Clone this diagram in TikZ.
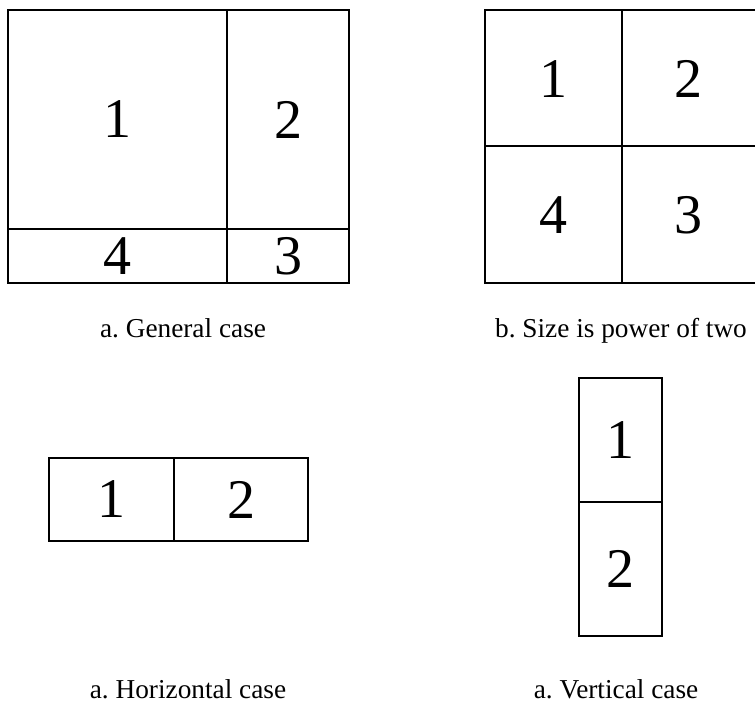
\documentclass[tikz,border=0pt]{standalone}
\usepackage{fontspec}
\setmainfont{Liberation Serif}
\frenchspacing
\begin{document}
\begin{tikzpicture}[x=1pt,y=-1pt,
  frame/.style={line width=1.6pt, line cap=rect},
  num/.style={font=\fontsize{56}{56}\selectfont, inner sep=0pt},
  captext/.style={font=\fontsize{27.3}{30}\selectfont, inner sep=0pt, anchor=base}]
\useasboundingbox (0,0) rectangle (755,704);

% a. General case
\coordinate (aTL) at (8,10);
\coordinate (aBR) at (349,283);
\draw[frame] (aTL) rectangle (aBR);
\coordinate (aV1) at (227,10);
\coordinate (aV2) at (227,283);
\coordinate (aH1) at (8,229);
\coordinate (aH2) at (349,229);
\draw[frame] (aV1) -- (aV2);
\draw[frame] (aH1) -- (aH2);
\node[num] (a1) at (117.5,119.5) {1};
\node[num] (a2) at (288,119.5) {2};
\node[num] (a4) at (117.5,256.5) {4};
\node[num] (a3) at (288,256.5) {3};
\node[captext] (capa) at (183,337) {a. General case};

% b. Size is power of two
\coordinate (bT) at (755,10);
\coordinate (bTL) at (485,10);
\coordinate (bBL) at (485,283);
\coordinate (bB) at (755,283);
\draw[frame] (bT) -- (bTL) -- (bBL) -- (bB);
\coordinate (bV1) at (622,10);
\coordinate (bV2) at (622,283);
\coordinate (bH1) at (485,146);
\coordinate (bH2) at (755,146);
\draw[frame] (bV1) -- (bV2);
\draw[frame] (bH1) -- (bH2);
\node[num] (b1) at (553,79) {1};
\node[num] (b2) at (688,79) {2};
\node[num] (b4) at (553,215) {4};
\node[num] (b3) at (688,215) {3};
\node[captext] (capb) at (621,337) {b. Size is power of two};

% Horizontal case
\coordinate (hTL) at (49,458);
\coordinate (hBR) at (308,541);
\draw[frame] (hTL) rectangle (hBR);
\coordinate (hV1) at (174,458);
\coordinate (hV2) at (174,541);
\draw[frame] (hV1) -- (hV2);
\node[num] (h1) at (111.5,499.5) {1};
\node[num] (h2) at (241,499.5) {2};
\node[captext] (caph) at (188,698) {a. Horizontal case};

% Vertical case
\coordinate (vTL) at (579,378);
\coordinate (vBR) at (662,636);
\draw[frame] (vTL) rectangle (vBR);
\coordinate (vH1) at (579,502);
\coordinate (vH2) at (662,502);
\draw[frame] (vH1) -- (vH2);
\node[num] (v1) at (620.5,440) {1};
\node[num] (v2) at (620.5,569) {2};
\node[captext] (capv) at (616,698) {a. Vertical case};
\end{tikzpicture}
\end{document}
